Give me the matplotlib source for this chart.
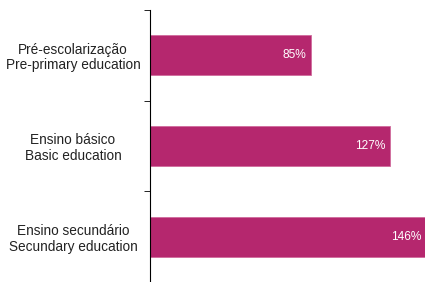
import matplotlib.pyplot as plt
import numpy as np

labels = ["Pré-escolarização\nPre-primary education",
          "Ensino básico\nBasic education",
          "Ensino secundário\nSecundary education"]
values = [85, 127, 146]

plt.rcParams['font.family'] = ['Liberation Sans', 'DejaVu Sans']

fig = plt.figure(figsize=(4.25, 2.82), dpi=100)
ax = fig.add_axes([150 / 425, 0.0, 1 - 150 / 425, 1 - 10 / 282])

y = np.arange(len(values))
ax.barh(y, values, height=0.44, color='#b5276e', edgecolor='#d06b9c', linewidth=0.6)
for yi, v in zip(y, values):
    ax.text(v - 2.5, yi, f"{v}%", ha='right', va='center', color='white', fontsize=8.6)

ax.set_ylim(len(values) - 0.5, -0.5)
ax.set_xlim(0, 145.5)
ax.set_yticks(y)
ax.set_yticklabels(labels, fontsize=9.8, ha='center', color='#222222', linespacing=1.15)
ax.tick_params(axis='y', which='major', length=0, pad=55.5)
ax.set_yticks(np.arange(-0.5, len(values)), minor=True)
ax.tick_params(axis='y', which='minor', length=4, direction='out')
ax.set_xticks([])
for s in ['top', 'right', 'bottom']:
    ax.spines[s].set_visible(False)
ax.spines['left'].set_linewidth(0.8)

fig.savefig('out.png', dpi=100)
